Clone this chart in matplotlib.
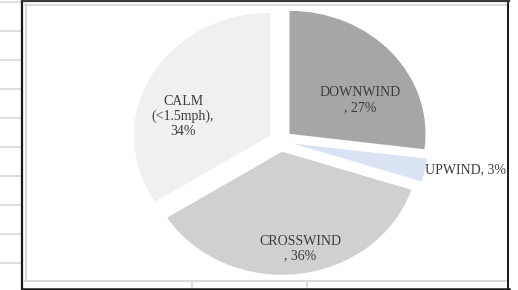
import matplotlib
matplotlib.use("Agg")
import matplotlib.pyplot as plt
from matplotlib.patches import Rectangle

# ---- data ----
categories = ["DOWNWIND", "UPWIND", "CROSSWIND", "CALM\n(<1.5mph)"]
shares = [27, 3, 36, 34]
label_texts = ["DOWNWIND\n, 27%", "UPWIND, 3%", "CROSSWIND\n, 36%", "CALM\n(<1.5mph),\n34%"]

colors = ["#a6a6a6", "#dae3f3", "#d0d0d1", "#f0f0f0"]
label_pos = [(0.585, 0.335), (1.062, -0.236), (0.143, -0.875), (-0.717, 0.200)]
label_ha = ["center", "left", "center", "center"]

W, H = 518, 290
fig = plt.figure(figsize=(W / 100, H / 100), dpi=100)
fig.patch.set_facecolor("white")

# background decoration axes (pixel coords, top-origin)
bg = fig.add_axes([0, 0, 1, 1], zorder=0)
bg.set_xlim(0, W)
bg.set_ylim(H, 0)
bg.axis("off")
grid_c = "#d9d9d9"
for y in [2, 31, 60, 89, 118, 147, 176, 205, 234, 263]:
    bg.plot([0, 21], [y, y], color=grid_c, lw=1.2, solid_capstyle="butt")
bg.plot([25.5, 25.5], [4, 281], color=grid_c, lw=1.4)
bg.plot([25, 508], [4.8, 4.8], color=grid_c, lw=1.4)
bg.plot([25, 508], [281, 281], color=grid_c, lw=1.4)
for x in [192, 307]:
    bg.plot([x, x], [281, 288], color=grid_c, lw=1.2)

# pie axes: centre at pixel (280.5, 141), horizontal radius 136, vertical 123
cx, cy, rx, ry = 280.5, 141, 136, 123
ext = 1.1
ax = fig.add_axes([(cx - ext * rx) / W, (H - cy - ext * ry) / H,
                   2 * ext * rx / W, 2 * ext * ry / H], zorder=1)
ax.pie(shares, colors=colors, startangle=90, counterclock=False,
       explode=[0.088] * len(shares), radius=1.0,
       wedgeprops=dict(linewidth=0))
ax.set_aspect("auto")
ax.set_xlim(-ext, ext)
ax.set_ylim(-ext, ext)
ax.axis("off")
for txt, (x, y), ha in zip(label_texts, label_pos, label_ha):
    ax.text(x, y, txt, ha=ha, va="center", fontsize=10,
            family="Liberation Serif", color="#3c3c3c",
            linespacing=1.2, clip_on=False)

# foreground decoration (borders, cover right of frame)
fg = fig.add_axes([0, 0, 1, 1], zorder=2)
fg.set_xlim(0, W)
fg.set_ylim(H, 0)
fg.axis("off")
fg.patch.set_alpha(0)
fg.add_patch(Rectangle((509, 0), 20, H, facecolor="white", edgecolor="none"))
fg.plot([21.5, 21.5], [0, H], color="#1a1a1a", lw=1.6)
fg.plot([508.2, 508.2], [0, H], color="#1a1a1a", lw=1.4)
fg.plot([22, 508.5], [0.8, 0.8], color="#3a3a3a", lw=1.6)
fg.plot([22, 508.5], [288.5, 288.5], color="#1a1a1a", lw=1.8)

fig.savefig("out.png", dpi=100, facecolor="white")
